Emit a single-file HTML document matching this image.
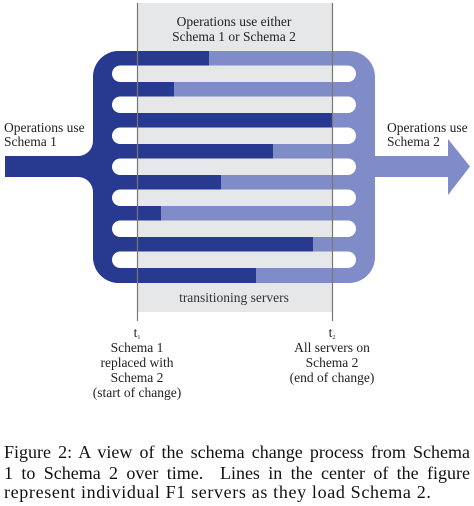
<!DOCTYPE html>
<html><head><style>
body{margin:0;background:#fff;width:474px;height:506px;overflow:hidden;font-family:"Liberation Serif",serif;}
.cap{position:absolute;left:4px;width:466px;font-size:18px;line-height:19.5px;color:#111;text-align:justify;text-align-last:justify;white-space:nowrap;}
</style></head><body>
<svg width="474" height="420" style="position:absolute;left:0;top:0" font-family="Liberation Serif, serif">
<defs><clipPath id="c"><rect x="93" y="51" width="282" height="232" rx="26"/></clipPath></defs>
<rect x="137" y="3" width="195" height="309" fill="#e6e7e9"/>
<path d="M5,156 H78 A15 15 0 0 0 93 141 V192 A15 15 0 0 0 78 177 H5 Z" fill="#283a8f"/>
<path d="M360,141 A15 15 0 0 0 375 156 H448 V139 L470 166.5 L448 195 V177 H375 A15 15 0 0 0 360 192 Z" fill="#7f8cc8"/>
<g clip-path="url(#c)">
<rect x="93" y="51" width="282" height="232" fill="#7f8cc8"/>
<rect x="93" y="51" width="44" height="232" fill="#283a8f"/>
<rect x="93" y="51" width="116" height="15" fill="#283a8f"/>
<rect x="93" y="82" width="81" height="15" fill="#283a8f"/>
<rect x="93" y="113" width="239" height="15" fill="#283a8f"/>
<rect x="93" y="144" width="180" height="15" fill="#283a8f"/>
<rect x="93" y="175" width="128" height="15" fill="#283a8f"/>
<rect x="93" y="206" width="68" height="15" fill="#283a8f"/>
<rect x="93" y="237" width="220" height="15" fill="#283a8f"/>
<rect x="93" y="268" width="163" height="15" fill="#283a8f"/>
</g>
<g fill="#fff">
<rect x="112" y="65.5" width="244" height="16.5" rx="8.25"/>
<rect x="112" y="96.5" width="244" height="16.5" rx="8.25"/>
<rect x="112" y="127.5" width="244" height="16.5" rx="8.25"/>
<rect x="112" y="158.5" width="244" height="16.5" rx="8.25"/>
<rect x="112" y="189.5" width="244" height="16.5" rx="8.25"/>
<rect x="112" y="220.5" width="244" height="16.5" rx="8.25"/>
<rect x="112" y="251.5" width="244" height="16.5" rx="8.25"/>
</g>
<g fill="#e6e7e9">
<rect x="137" y="65.5" width="195" height="16.5"/>
<rect x="137" y="96.5" width="195" height="16.5"/>
<rect x="137" y="127.5" width="195" height="16.5"/>
<rect x="137" y="158.5" width="195" height="16.5"/>
<rect x="137" y="189.5" width="195" height="16.5"/>
<rect x="137" y="220.5" width="195" height="16.5"/>
<rect x="137" y="251.5" width="195" height="16.5"/>
</g>
<line x1="137.5" y1="3" x2="137.5" y2="321" stroke="#777" stroke-width="1.2"/>
<line x1="332.5" y1="3" x2="332.5" y2="321" stroke="#777" stroke-width="1.2"/>
<g font-size="13.5" fill="#222">
<text x="234" y="26" text-anchor="middle">Operations use either</text>
<text x="234" y="41" text-anchor="middle">Schema 1 or Schema 2</text>
<text x="4" y="132">Operations use</text>
<text x="4" y="146">Schema 1</text>
<text x="387" y="132">Operations use</text>
<text x="387" y="146">Schema 2</text>
<text x="234" y="302" text-anchor="middle" fill="#333">transitioning servers</text>
<g text-anchor="middle">
<text x="137" y="337">t<tspan font-size="6" dy="2">1</tspan></text>
<text x="137" y="352">Schema 1</text>
<text x="137" y="367">replaced with</text>
<text x="137" y="382">Schema 2</text>
<text x="137" y="397">(start of change)</text>
<text x="332" y="337">t<tspan font-size="6" dy="2">2</tspan></text>
<text x="332" y="352">All servers on</text>
<text x="332" y="367">Schema 2</text>
<text x="332" y="382">(end of change)</text>
</g>
</g>
</svg>
<div class="cap" style="top:443px">Figure 2: A view of the schema change process from Schema</div>
<div class="cap" style="top:463.5px">1 to Schema 2 over time. &nbsp;Lines in the center of the figure</div>
<div class="cap" style="top:483px;text-align-last:left;letter-spacing:0.65px">represent individual F1 servers as they load Schema 2.</div>
</body></html>
